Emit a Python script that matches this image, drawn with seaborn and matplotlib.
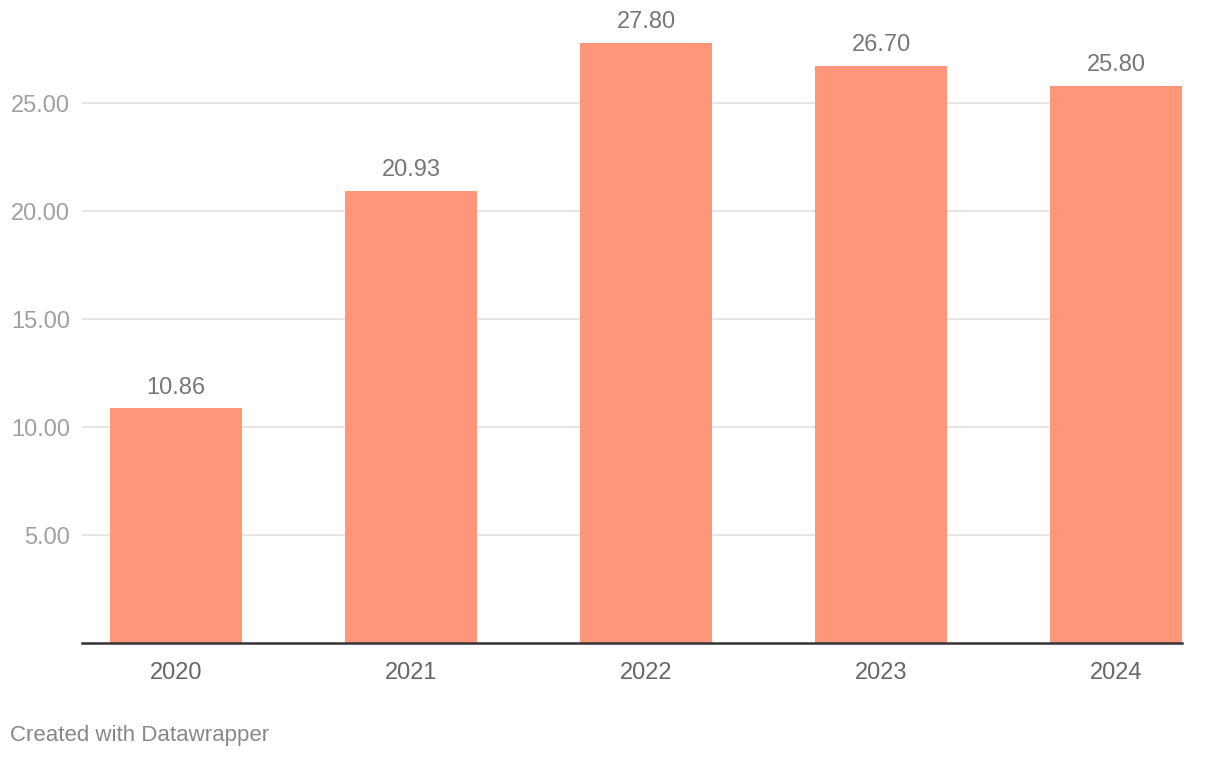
import pandas as pd
import matplotlib.pyplot as plt
import seaborn as sns

# Data
years = ["2020", "2021", "2022", "2023", "2024"]
values = [10.86, 20.93, 27.80, 26.70, 25.80]
yticks = [5, 10, 15, 20, 25]

df = pd.DataFrame({"Year": years, "Value": values})

sns.set_style("white")
plt.rcParams['font.family'] = ['Liberation Sans', 'DejaVu Sans']

W, H = 1220, 758
fig = plt.figure(figsize=(W / 100, H / 100), dpi=100)
ax = fig.add_axes([82 / W, (H - 643) / H, (1182 - 82) / W, (643 - 3) / H])

sns.barplot(x="Year", y="Value", data=df, color="#ff9579", saturation=1,
            width=0.56, linewidth=0, ax=ax, zorder=3)

ax.set_xlim(-0.4, 4.28)
ax.set_ylim(0, 29.63)

ax.set_yticks(yticks)
ax.set_yticklabels([f"{v:.2f}" for v in yticks])
ax.yaxis.grid(True, color="#e3e3e3", linewidth=1.3, zorder=0)
ax.tick_params(axis="y", length=0, labelsize=17, labelcolor="#a0a0a0", pad=8.6)

ax.tick_params(axis="x", length=0, labelsize=17, labelcolor="#666666", pad=14)
ax.set_xlabel("")
ax.set_ylabel("")

for s in ["top", "right", "left"]:
    ax.spines[s].set_visible(False)
ax.spines["bottom"].set_color("#333333")
ax.spines["bottom"].set_linewidth(1.8)
ax.spines["bottom"].set_zorder(4)

# value labels above bars
for i, v in enumerate(values):
    ax.annotate(f"{v:.2f}", (i, v), xytext=(0, 15), textcoords="offset points",
                ha="center", va="center", fontsize=17, color="#777777")

fig.text(10 / W, 1 - 735 / H, "Created with Datawrapper", fontsize=16,
         color="#888888", ha="left", va="center")

fig.savefig("out.png", dpi=100)
